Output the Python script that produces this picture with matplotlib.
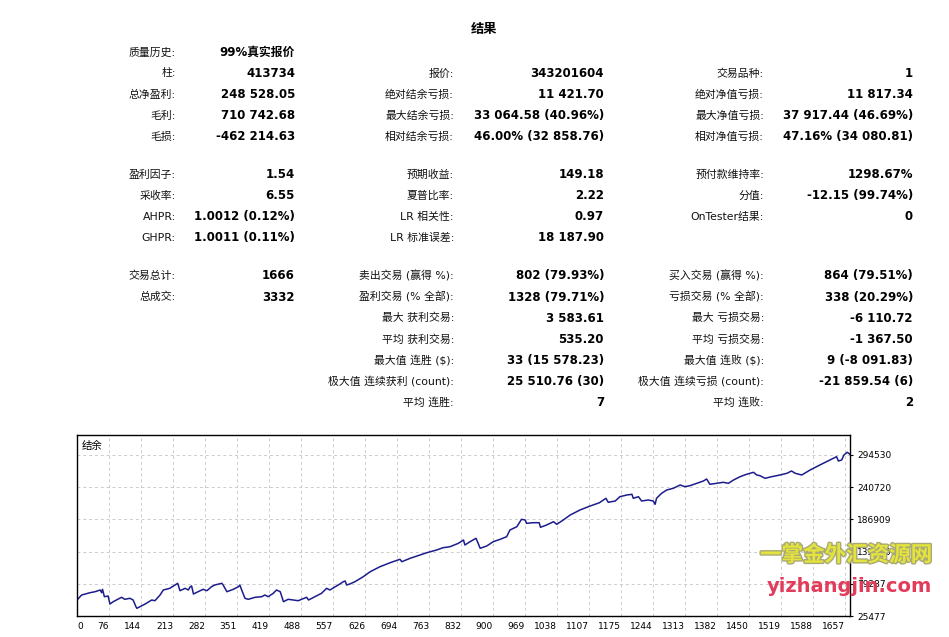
import numpy as np
import matplotlib
matplotlib.use('Agg')
import matplotlib.pyplot as plt
import matplotlib.patheffects as pe

plt.rcParams['font.family'] = ['DejaVu Sans', 'Noto Sans CJK SC']

W, H = 949, 637

# report table, three columns of label/value pairs
col1_labels = ['质量历史:', '柱:', '总净盈利:', '毛利:', '毛损:',
               '盈利因子:', '采收率:', 'AHPR:', 'GHPR:',
               '交易总计:', '总成交:']
col1_values = ['99%真实报价', '413734', '248 528.05', '710 742.68', '-462 214.63',
               '1.54', '6.55', '1.0012 (0.12%)', '1.0011 (0.11%)',
               '1666', '3332']

col2_labels = ['报价:', '绝对结余亏损:', '最大结余亏损:', '相对结余亏损:',
               '预期收益:', '夏普比率:', 'LR 相关性:', 'LR 标准误差:',
               '卖出交易 (赢得 %):', '盈利交易 (% 全部):', '最大 获利交易:', '平均 获利交易:',
               '最大值 连胜 ($):', '极大值 连续获利 (count):', '平均 连胜:']
col2_values = ['343201604', '11 421.70', '33 064.58 (40.96%)', '46.00% (32 858.76)',
               '149.18', '2.22', '0.97', '18 187.90',
               '802 (79.93%)', '1328 (79.71%)', '3 583.61', '535.20',
               '33 (15 578.23)', '25 510.76 (30)', '7']

col3_labels = ['交易品种:', '绝对净值亏损:', '最大净值亏损:', '相对净值亏损:',
               '预付款维持率:', '分值:', 'OnTester结果:',
               '买入交易 (赢得 %):', '亏损交易 (% 全部):', '最大 亏损交易:', '平均 亏损交易:',
               '最大值 连败 ($):', '极大值 连续亏损 (count):', '平均 连败:']
col3_values = ['1', '11 817.34', '37 917.44 (46.69%)', '47.16% (34 080.81)',
               '1298.67%', '-12.15 (99.74%)', '0',
               '864 (79.51%)', '338 (20.29%)', '-6 110.72', '-1 367.50',
               '9 (-8 091.83)', '-21 859.54 (6)', '2']

# balance curve (trade number, balance)
trades = [0, 10, 28, 39, 50, 53, 55, 59, 67, 71,
          78, 96, 103, 114, 121, 127, 129, 147, 161, 168,
          179, 186, 200, 211, 217, 222, 233, 240, 244, 247,
          251, 261, 272, 280, 290, 297, 312, 315, 323, 337,
          348, 351, 355, 362, 369, 384, 398, 405, 412, 423,
          430, 438, 445, 455, 466, 477, 484, 495, 499, 513,
          527, 538, 545, 563, 574,
          578, 581, 588, 599, 617,
          632, 653, 675, 696, 700, 718, 739, 754, 775, 789,
          804, 822, 833, 836, 847, 860, 869, 883, 897, 912,
          926, 933, 948, 958, 966, 969, 983, 996, 999, 1012,
          1027, 1034, 1048, 1063, 1084, 1102, 1126,
          1140, 1145, 1160, 1170, 1185, 1196, 1199, 1210, 1217, 1231,
          1242, 1246, 1249, 1260, 1271, 1285, 1300, 1310, 1321, 1336,
          1350, 1357, 1364, 1379, 1393, 1404, 1415, 1429, 1443, 1458,
          1465, 1472, 1483, 1497, 1515, 1530, 1540, 1548, 1562, 1580,
          1601, 1623, 1637, 1641, 1648, 1653, 1660, 1666]
balance = [52210, 60570, 64410, 66080, 68920, 64410, 70090, 57730, 58900, 45530,
           49370, 56730, 53380, 55050, 52210, 41020, 38340, 45530, 52210, 51040,
           60570, 68920, 71760, 77280, 80120, 67750, 71760, 68920, 74440, 75610,
           62240, 66080, 70090, 67750, 74440, 77280, 80120, 77280, 66080, 70090,
           74440, 77280, 68920, 55050, 53380, 56730, 57730, 60570, 57730, 63410,
           68920, 66080, 49370, 53380, 52210, 51040, 53380, 56730, 52210, 57730,
           63410, 71760, 68920, 77280, 82790,
           83960, 77280, 78950, 82790, 91150,
           99500, 107860, 114540, 120220, 116210, 121890, 127410, 131250, 135760, 139610,
           141280, 146960, 152470, 144120, 149630, 155310, 138600, 142450, 149630, 153640,
           157990, 169180, 174700, 187060, 185890, 180380, 181380, 181380, 173700, 177540,
           183050, 178710, 185890, 194250, 202600, 208120, 214800,
           222150, 215470, 217640, 224830, 227670, 228840, 222150, 224830, 217640, 219310,
           217640, 212130, 222150, 230510, 236020, 238860, 244380, 241540, 243210, 247220,
           251060, 254400, 245550, 247220, 248890, 247220, 252730, 258250, 262260, 265600,
           261090, 259920, 255570, 258250, 261090, 263930, 267770, 263930, 261090, 269440,
           277800, 286150, 291670, 284480, 286150, 294510, 299020, 295680]

x_labels = ['0', '76', '144', '213', '282', '351', '419', '488', '557', '626', '694', '763',
            '832', '900', '969', '1038', '1107', '1175', '1244', '1313', '1382', '1450',
            '1519', '1588', '1657']
y_labels = ['25477', '79287', '133098', '186909', '240720', '294530']

fig = plt.figure(figsize=(W / 100, H / 100), dpi=100)


def px(x, y):
    return x / W, 1 - y / H


fig.text(*px(484, 30), '结果', ha='center', va='center', fontsize=9.5, fontweight='bold')

# row slots: three groups separated by blank space
slots1 = [0, 1, 2, 3, 4, 5.8, 6.8, 7.8, 8.8, 10.6, 11.6]
slots2 = [1, 2, 3, 4, 5.8, 6.8, 7.8, 8.8, 10.6, 11.6, 12.6, 13.6, 14.6, 15.6, 16.6]
slots3 = [1, 2, 3, 4, 5.8, 6.8, 7.8, 10.6, 11.6, 12.6, 13.6, 14.6, 15.6, 16.6]

columns = [(col1_labels, col1_values, slots1, 176, 295),
           (col2_labels, col2_values, slots2, 454, 604),
           (col3_labels, col3_values, slots3, 764, 913)]
for labels, values, slots, lx, vx in columns:
    for lab, val, s in zip(labels, values, slots):
        y = 52.3 + 21.1 * s
        fig.text(*px(lx, y), lab, ha='right', va='center', fontsize=7.8, color='#111111')
        fig.text(*px(vx, y), val, ha='right', va='center', fontsize=8.5, fontweight='bold')

# balance chart
ax = fig.add_axes([77 / W, 1 - 616 / H, (850 - 77) / W, (616 - 435) / H])
ax.plot(trades, balance, color='#1c1c8c', lw=1.1)
ax.set_xlim(0, 1666)
ax.set_ylim(25477, 327930)

y_step = 53810.6
ax.yaxis.tick_right()
ax.set_yticks(25477 + y_step * np.arange(len(y_labels)), y_labels)
ax.tick_params(axis='y', length=2, labelsize=6.5, pad=3)

x_step = 68.97
ax.set_xticks(x_step * np.arange(len(x_labels)), x_labels)
ax.tick_params(axis='x', length=0, labelsize=6.5, pad=4)
for i, t in enumerate(ax.get_xticklabels()):
    t.set_ha('left' if i == 0 else 'right')

ax.grid(True, color='#cccccc', linestyle=(0, (3, 3)), lw=0.7)
for sp in ax.spines.values():
    sp.set_color('black')
    sp.set_linewidth(1)

ax.text(5 / 773, 1 - 11 / 181, '结余', transform=ax.transAxes, ha='left', va='center', fontsize=7.5)

# watermark
fig.text(*px(932, 555), '一掌金外汇资源网', ha='right', va='center', fontsize=15.5,
         fontweight='bold', color='#e4e43c',
         path_effects=[pe.withStroke(linewidth=2, foreground='#a8a878')])
fig.text(*px(932, 586), 'yizhangjin.com', ha='right', va='center', fontsize=14,
         fontweight='bold', color='#e23c5a')

fig.savefig('out.png', dpi=100)
